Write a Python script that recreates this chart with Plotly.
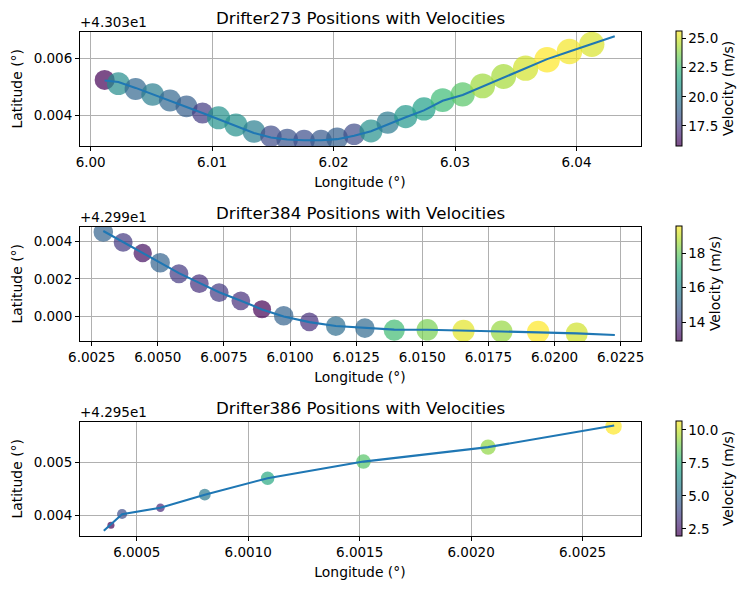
import plotly.graph_objects as go

W, H = 750, 589
FONT = "DejaVu Sans"

# --- Drifter273 ---
lon_273 = [6.00115, 6.00228, 6.00370, 6.00510, 6.00653, 6.00789, 6.00921, 6.01053, 6.01196, 6.01344,
           6.01484, 6.01618, 6.01757, 6.01897, 6.02029, 6.02169, 6.02308, 6.02446, 6.02594, 6.02744,
           6.02898, 6.03063, 6.03227, 6.03400, 6.03581, 6.03758, 6.03942, 6.04126]
lat_273 = [0.00525, 0.00512, 0.00493, 0.00474, 0.00453, 0.00432, 0.00409, 0.00392, 0.00367, 0.00344,
           0.00327, 0.00316, 0.00312, 0.00312, 0.00320, 0.00334, 0.00346, 0.00375, 0.00396, 0.00423,
           0.00454, 0.00474, 0.00504, 0.00537, 0.00566, 0.00596, 0.00625, 0.00650]
vel_273 = [15.8, 20.5, 19.0, 20.0, 19.0, 18.7, 17.5, 20.8, 20.7, 20.0,
           18.0, 18.3, 18.1, 18.5, 18.7, 18.0, 20.7, 19.8, 21.0, 21.3,
           22.5, 23.0, 24.2, 24.3, 25.0, 25.65, 25.5, 25.1]
track_lon_273 = [6.00115, 6.00228, 6.00370, 6.00510, 6.00653, 6.00789, 6.00921, 6.01053, 6.01196, 6.01344,
                 6.01484, 6.01618, 6.01757, 6.01897, 6.02029, 6.02169, 6.02308, 6.02446, 6.02594, 6.02744,
                 6.02898, 6.03063, 6.03227, 6.03400, 6.03581, 6.03758, 6.03942, 6.04126, 6.04315]
track_lat_273 = [0.00523, 0.00518, 0.00497, 0.00474, 0.00450, 0.00430, 0.00409, 0.00388, 0.00363, 0.00339,
                 0.00323, 0.00316, 0.00313, 0.00313, 0.00317, 0.00329, 0.00345, 0.00369, 0.00394, 0.00418,
                 0.00452, 0.00472, 0.00502, 0.00534, 0.00566, 0.00598, 0.00625, 0.00652, 0.00678]

# --- Drifter384 ---
lon_384 = [6.00294, 6.00369, 6.00443, 6.00509, 6.00580, 6.00657, 6.00732, 6.00814, 6.00894, 6.00976,
           6.01073, 6.01173, 6.01283, 6.01394, 6.01519, 6.01656, 6.01800, 6.01938, 6.02084]
lat_384 = [0.00450, 0.00395, 0.00338, 0.00286, 0.00227, 0.00174, 0.00126, 0.00082, 0.00037, 0.00002,
           -0.00030, -0.00053, -0.00064, -0.00075, -0.00073, -0.00078, -0.00082, -0.00084, -0.00093]
vel_384 = [15.0, 14.0, 13.2, 15.0, 14.0, 13.8, 14.0, 13.8, 12.93, 15.0,
           13.8, 15.3, 15.2, 17.5, 18.2, 19.3, 18.5, 19.56, 19.1]
track_lon_384 = [6.00294, 6.00369, 6.00443, 6.00509, 6.00580, 6.00657, 6.00732, 6.00814, 6.00894, 6.00976,
                 6.01073, 6.01173, 6.01283, 6.01394, 6.01519, 6.01656, 6.01800, 6.01938, 6.02084, 6.02228]
track_lat_384 = [0.00456, 0.00397, 0.00342, 0.00286, 0.00230, 0.00178, 0.00128, 0.00082, 0.00036, -0.00002,
                 -0.00032, -0.00053, -0.00064, -0.00072, -0.00073, -0.00079, -0.00082, -0.00087, -0.00092, -0.00101]

# --- Drifter386 ---
lon_386 = [6.000384, 6.000434, 6.000606, 6.000805, 6.001087, 6.001517, 6.002076, 6.002639]
lat_386 = [0.003811, 0.004025, 0.004143, 0.004389, 0.004698, 0.005011, 0.005283, 0.005672]
vel_386 = [1.97, 4.0, 2.9, 5.5, 7.2, 8.3, 9.2, 10.67]
track_lon_386 = [6.000352, 6.000434, 6.000606, 6.000805, 6.001087, 6.001517, 6.002076, 6.002642]
track_lat_386 = [0.003710, 0.004020, 0.004143, 0.004389, 0.004698, 0.005011, 0.005283, 0.005690]

titles = ["Drifter273 Positions with Velocities",
          "Drifter384 Positions with Velocities",
          "Drifter386 Positions with Velocities"]
offsets = ["+4.303e1", "+4.299e1", "+4.295e1"]
x_ticks = [[6.00, 6.01, 6.02, 6.03, 6.04],
           [6.0025, 6.0050, 6.0075, 6.0100, 6.0125, 6.0150, 6.0175, 6.0200, 6.0225],
           [6.0005, 6.0010, 6.0015, 6.0020, 6.0025]]
x_labels = [["6.00", "6.01", "6.02", "6.03", "6.04"],
            ["6.0025", "6.0050", "6.0075", "6.0100", "6.0125", "6.0150", "6.0175", "6.0200", "6.0225"],
            ["6.0005", "6.0010", "6.0015", "6.0020", "6.0025"]]
y_ticks = [[0.004, 0.006], [0.000, 0.002, 0.004], [0.004, 0.005]]
y_labels = [["0.004", "0.006"], ["0.000", "0.002", "0.004"], ["0.004", "0.005"]]
cb_ticks = [[17.5, 20.0, 22.5, 25.0], [14, 16, 18], [2.5, 5.0, 7.5, 10.0]]
cb_labels = [["17.5", "20.0", "22.5", "25.0"], ["14", "16", "18"], ["2.5", "5.0", "7.5", "10.0"]]
x_ranges = [[5.99908, 6.04527], [6.00204, 6.02325], [6.000243, 6.00276]]
y_ranges = [[0.00293, 0.00695], [-0.00133, 0.0048], [0.00361, 0.005766]]
c_ranges = [[15.78, 25.65], [12.93, 19.56], [1.97, 10.67]]
tops = [31.5, 226.5, 421.5]
bottoms = [146.0, 341.0, 536.0]
LEFT, RIGHT = 79.5, 640.5

viridis = [(68, 1, 84), (72, 40, 120), (62, 74, 137), (49, 104, 142), (38, 130, 142),
           (31, 158, 137), (53, 183, 121), (109, 205, 89), (180, 222, 44), (253, 231, 37)]
scale = [[i / 9, f"rgba({r},{g},{b},0.7)"] for i, (r, g, b) in enumerate(viridis)]

series = [(lon_273, lat_273, vel_273, track_lon_273, track_lat_273),
          (lon_384, lat_384, vel_384, track_lon_384, track_lat_384),
          (lon_386, lat_386, vel_386, track_lon_386, track_lat_386)]

fig = go.Figure()
annotations = []
layout_axes = {}
for i, (lon, lat, vel, tlon, tlat) in enumerate(series):
    suffix = "" if i == 0 else str(i + 1)
    xa, ya = "x" + suffix, "y" + suffix
    top, bottom = tops[i], bottoms[i]
    fig.add_trace(go.Scatter(
        x=lon, y=lat, mode="markers", xaxis=xa, yaxis=ya, showlegend=False,
        marker=dict(
            color=vel, size=vel, sizemode="area", sizeref=0.0785, opacity=1,
            colorscale=scale, cmin=c_ranges[i][0], cmax=c_ranges[i][1],
            line=dict(width=0),
            colorbar=dict(
                x=675.7 / W, xref="container", xanchor="left", thickness=5.7,
                y=1 - bottom / H, yref="container", yanchor="bottom",
                lenmode="pixels", len=bottom - top,
                outlinecolor="black", outlinewidth=1, xpad=0, ypad=0,
                ticks="outside", ticklen=3.5, tickwidth=1, tickcolor="black",
                tickvals=cb_ticks[i], ticktext=cb_labels[i],
                tickfont=dict(family=FONT, size=13.5, color="black"),
                title=dict(text="Velocity (m/s)", side="right",
                           font=dict(family=FONT, size=13.9, color="black")),
            ),
        ),
    ))
    fig.add_trace(go.Scatter(
        x=tlon, y=tlat, mode="lines", xaxis=xa, yaxis=ya, showlegend=False,
        line=dict(color="#1f77b4", width=2.08),
    ))
    common = dict(
        showgrid=True, gridcolor="#b0b0b0", gridwidth=1, zeroline=False,
        showline=True, linecolor="black", linewidth=1, mirror=True,
        ticks="outside", ticklen=3.5, tickwidth=1, tickcolor="black",
        tickfont=dict(family=FONT, size=13.5, color="black"),
        automargin=False,
    )
    layout_axes["xaxis" + suffix] = dict(
        domain=[LEFT / W, RIGHT / W], range=x_ranges[i], anchor=ya,
        tickvals=x_ticks[i], ticktext=x_labels[i],
        title=dict(text="Longitude (°)", standoff=8,
                   font=dict(family=FONT, size=13.9, color="black")),
        **common)
    layout_axes["yaxis" + suffix] = dict(
        domain=[1 - bottom / H, 1 - top / H], range=y_ranges[i], anchor=xa,
        tickvals=y_ticks[i], ticktext=y_labels[i],
        title=dict(text="Latitude (°)", standoff=7,
                   font=dict(family=FONT, size=13.9, color="black")),
        **common)
    annotations.append(dict(
        text=titles[i], xref="paper", yref="paper", x=(LEFT + RIGHT) / 2 / W, y=1 - top / H,
        xanchor="center", yanchor="bottom", yshift=1.5, showarrow=False,
        font=dict(family=FONT, size=16.67, color="black")))
    annotations.append(dict(
        text=offsets[i], xref="paper", yref="paper", x=LEFT / W, y=1 - top / H,
        xanchor="left", yanchor="bottom", xshift=-2, yshift=-0.5, showarrow=False,
        font=dict(family=FONT, size=13.5, color="black")))

fig.update_layout(
    width=W, height=H, autosize=False,
    margin=dict(l=0, r=0, t=0, b=0, autoexpand=False),
    paper_bgcolor="white", plot_bgcolor="white",
    annotations=annotations, hovermode=False,
    **layout_axes,
)
fig.write_html("out.html", config={"displayModeBar": False},
               post_script="document.body.style.margin='0';document.documentElement.style.overflow='hidden';")
